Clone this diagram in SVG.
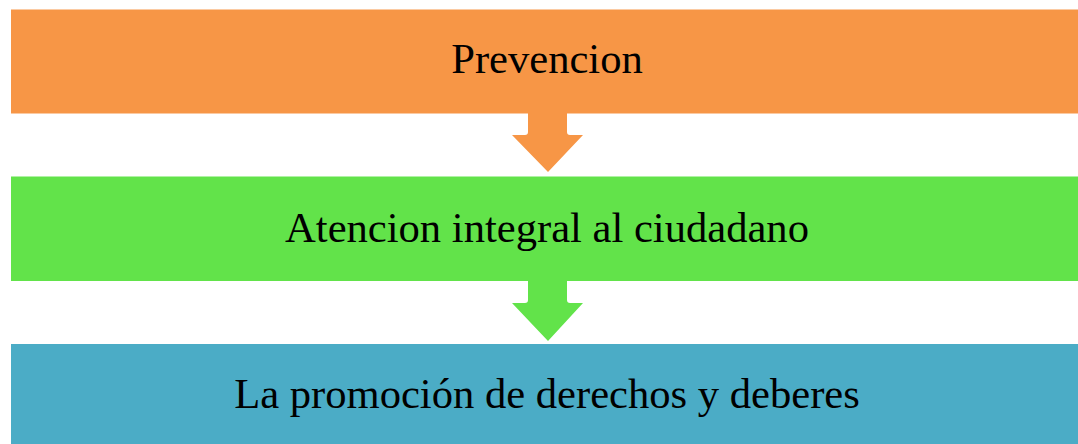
<svg xmlns="http://www.w3.org/2000/svg" width="1078" height="444" viewBox="0 0 1078 444">
<style>
text{font-family:"Liberation Serif","Times New Roman",serif;font-size:42.6px;fill:#000;text-anchor:middle}
</style>
<rect width="1078" height="444" fill="#fff"/>
<g id="connectors">
<path d="M528,113 L528,132 Q528,135 525,135 L512,135 L548,172 L583,135 L570,135 Q567,135 567,132 L567,113 Z" fill="#F79646"/>
<path d="M528,281 L528,300 Q528,303 525,303 L512,303 L548,341 L583,303 L570,303 Q567,303 567,300 L567,281 Z" fill="#62E34A"/>
</g>
<g id="node1">
<rect x="11" y="9.5" width="1067" height="104" fill="#F79646"/>
<text x="547" y="73">Prevencion</text>
</g>
<g id="node2">
<rect x="11" y="176.5" width="1067" height="104.5" fill="#62E34A"/>
<text x="547" y="242">Atencion integral al ciudadano</text>
</g>
<g id="node3">
<rect x="11" y="344" width="1067" height="100" fill="#4BACC6"/>
<text x="547" y="408">La promoción de derechos y deberes</text>
</g>
</svg>
